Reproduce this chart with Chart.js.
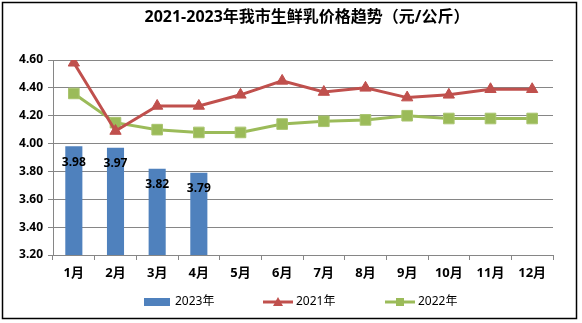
<!DOCTYPE html>
<html><head><meta charset="utf-8">
<script src="https://cdn.jsdelivr.net/npm/chart.js@4/dist/chart.umd.min.js"></script>
<style>html,body{margin:0;padding:0;background:#fff;}#wrap{width:582px;height:323px;position:relative;}</style>
</head><body>
<div id="wrap"><canvas id="c" width="582" height="323"></canvas></div>
<script>
const titleText = '2021-2023年我市生鲜乳价格趋势（元/公斤）';
const months = ['1月','2月','3月','4月','5月','6月','7月','8月','9月','10月','11月','12月'];
const yTicks = [3.20, 3.40, 3.60, 3.80, 4.00, 4.20, 4.40, 4.60];
const price2023 = [3.98, 3.97, 3.82, 3.79, null, null, null, null, null, null, null, null];
const price2021 = [4.58, 4.09, 4.27, 4.27, 4.35, 4.45, 4.37, 4.40, 4.33, 4.35, 4.39, 4.39];
const price2022 = [4.36, 4.15, 4.10, 4.08, 4.08, 4.14, 4.16, 4.17, 4.20, 4.18, 4.18, 4.18];
const seriesNames = ['2023年', '2021年', '2022年'];

const FONT = "'Noto Sans','Noto Sans CJK SC',sans-serif";
const BLUE = '#4F81BD', RED = '#C0504D', GREEN = '#9BBB59', GRID = '#868686';

const deco = {
  id: 'deco',
  beforeDraw(chart) {
    const ctx = chart.ctx;
    ctx.save();
    ctx.fillStyle = '#fff';
    ctx.fillRect(0, 0, chart.width, chart.height);
    ctx.restore();
  },
  afterDatasetsDraw(chart) {
    const ctx = chart.ctx;
    // bar value labels
    const meta = chart.getDatasetMeta(0);
    ctx.save();
    ctx.font = 'bold 12px ' + FONT;
    ctx.fillStyle = '#000';
    ctx.textAlign = 'center';
    ctx.textBaseline = 'middle';
    meta.data.forEach((el, i) => {
      const v = chart.data.datasets[0].data[i];
      if (v == null) return;
      ctx.fillText(v.toFixed(2), el.x, el.y + 16);
    });
    ctx.restore();
  },
  afterDraw(chart) {
    const ctx = chart.ctx;
    const ca = chart.chartArea;
    ctx.save();
    // title
    ctx.font = 'bold 16px ' + FONT;
    ctx.fillStyle = '#000';
    ctx.textAlign = 'center';
    ctx.textBaseline = 'middle';
    ctx.fillText(titleText, (ca.left + ca.right) / 2 + 4, 17);
    // legend
    const ly = 302;
    ctx.font = '12px ' + FONT;
    ctx.textAlign = 'left';
    // 2023 swatch
    ctx.fillStyle = BLUE;
    ctx.fillRect(144, ly - 4, 26, 8);
    ctx.fillStyle = '#000';
    ctx.fillText(seriesNames[0], 175, ly);
    // 2021 line
    ctx.strokeStyle = RED; ctx.lineWidth = 3;
    ctx.beginPath(); ctx.moveTo(263, ly); ctx.lineTo(293, ly); ctx.stroke();
    ctx.fillStyle = RED;
    ctx.beginPath(); ctx.moveTo(278, ly - 5); ctx.lineTo(283, ly + 4); ctx.lineTo(273, ly + 4); ctx.closePath(); ctx.fill();
    ctx.fillStyle = '#000';
    ctx.fillText(seriesNames[1], 296, ly);
    // 2022 line
    ctx.strokeStyle = GREEN; ctx.lineWidth = 3;
    ctx.beginPath(); ctx.moveTo(385, ly); ctx.lineTo(415, ly); ctx.stroke();
    ctx.fillStyle = GREEN;
    ctx.fillRect(396, ly - 4, 8, 8);
    ctx.fillStyle = '#000';
    ctx.fillText(seriesNames[2], 418, ly);
    // outer border
    ctx.strokeStyle = '#000'; ctx.lineWidth = 1.5;
    ctx.strokeRect(2.5, 2.5, 574, 316);
    ctx.restore();
  }
};

new Chart(document.getElementById('c'), {
  type: 'bar',
  data: {
    labels: months,
    datasets: [
      { type: 'bar', label: seriesNames[0], data: price2023, backgroundColor: BLUE,
        categoryPercentage: 1, barPercentage: 0.41, order: 3 },
      { type: 'line', label: seriesNames[1], data: price2021, borderColor: RED, backgroundColor: RED,
        borderWidth: 3, pointStyle: 'triangle', pointRadius: 6.5, pointBorderWidth: 1,
        pointBorderColor: RED, tension: 0, order: 1 },
      { type: 'line', label: seriesNames[2], data: price2022, borderColor: GREEN, backgroundColor: GREEN,
        borderWidth: 3, pointStyle: 'rect', pointRadius: 7.5, pointBorderWidth: 1,
        pointBorderColor: '#A9C46E', tension: 0, order: 2 }
    ]
  },
  options: {
    responsive: false,
    animation: false,
    devicePixelRatio: 1,
    layout: { padding: { top: 60, left: 0, right: 29, bottom: 0 } },
    plugins: { legend: { display: false }, title: { display: false }, tooltip: { enabled: false } },
    scales: {
      x: {
        offset: true,
        grid: { display: true, offset: true, drawOnChartArea: false, drawTicks: true, tickLength: 5, color: GRID },
        border: { display: true, color: GRID, width: 1 },
        ticks: { color: '#000', font: { family: FONT, size: 13, weight: 'bold' }, padding: 5, maxRotation: 0, autoSkip: false },
        afterFit(scale) { scale.height = 68; }
      },
      y: {
        min: yTicks[0], max: yTicks[yTicks.length - 1],
        afterBuildTicks(scale) { scale.ticks = yTicks.map(v => ({ value: v })); },
        grid: { color: GRID, lineWidth: 1, drawTicks: true, tickLength: 5 },
        border: { display: true, color: GRID, width: 1 },
        ticks: { color: '#000', font: { family: FONT, size: 12, weight: 'bold' }, padding: 5,
          callback: v => Number(v).toFixed(2) },
        afterFit(scale) { scale.width = 53; }
      }
    }
  },
  plugins: [deco]
});
</script>
</body></html>
